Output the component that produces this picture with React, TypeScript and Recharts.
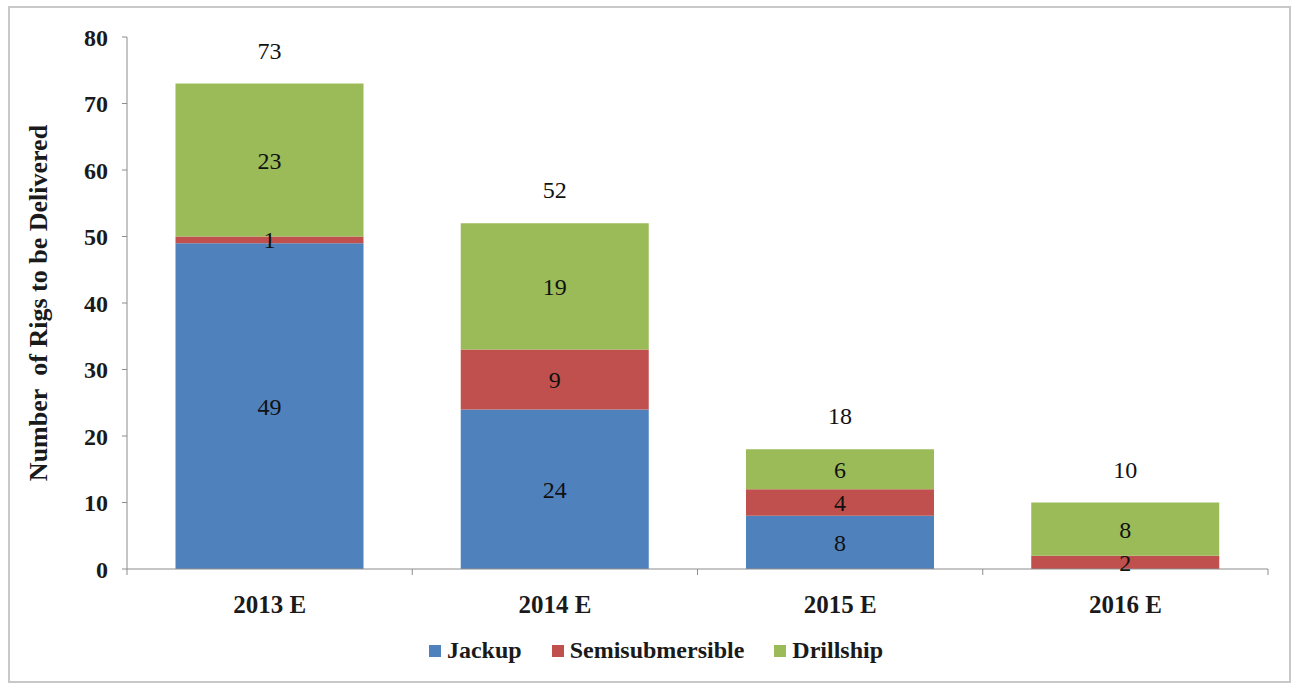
import React from 'react';
import { BarChart, Bar, XAxis, YAxis, Legend, LabelList } from 'recharts';

const years = ['2013 E', '2014 E', '2015 E', '2016 E'];
const jackup = [49, 24, 8, 0];
const semisubmersible = [1, 9, 4, 2];
const drillship = [23, 19, 6, 8];
const totals = [73, 52, 18, 10];
const yTicks = [0, 10, 20, 30, 40, 50, 60, 70, 80];
const seriesOrder = ['Jackup', 'Semisubmersible', 'Drillship'];

const data = years.map((year, i) => ({
  year,
  jackup: jackup[i],
  semisubmersible: semisubmersible[i],
  drillship: drillship[i],
  total: totals[i],
}));

const FONT = '"Liberation Serif", "Times New Roman", serif';
const AXIS_GREY = '#8c8c8c';

const W = 1296;
const H = 687;
const margin = { top: 37, right: 28, left: 0, bottom: 58 };
const Y_AXIS_W = 127;
const plotW = W - margin.left - margin.right - Y_AXIS_W;
const band = plotW / years.length;

// category labels plus the little boundary ticks Excel draws between categories
const YearTick = (props: any) => {
  const { x, y, payload, index } = props;
  const half = band / 2;
  return (
    <g>
      <line x1={x - half} y1={y} x2={x - half} y2={y + 6} stroke={AXIS_GREY} />
      {index === years.length - 1 && (
        <line x1={x + half} y1={y} x2={x + half} y2={y + 6} stroke={AXIS_GREY} />
      )}
      <text x={x} y={y + 44} textAnchor="middle" fontFamily={FONT} fontWeight="bold" fontSize={25} fill="#1a1a1a">
        {payload.value}
      </text>
    </g>
  );
};

const LegendContent = (props: any) => {
  const items = [...(props.payload || [])].sort(
    (a: any, b: any) => seriesOrder.indexOf(a.value) - seriesOrder.indexOf(b.value)
  );
  return (
    <div style={{ display: 'flex', justifyContent: 'center', alignItems: 'center', fontFamily: FONT, fontWeight: 'bold', fontSize: 24, color: '#1a1a1a' }}>
      {items.map((p: any) => (
        <div key={p.value} style={{ display: 'flex', alignItems: 'center', margin: '0 15px' }}>
          <span style={{ width: 12, height: 12, background: p.color, display: 'inline-block', marginRight: 6 }} />
          <span>{p.value}</span>
        </div>
      ))}
    </div>
  );
};

const hideZero = (v: any) => (v === 0 ? '' : v);

const labelStyle = { fontFamily: FONT, fontSize: 24, fill: '#111' };

export default function App() {
  return (
    <div style={{ position: 'absolute', left: 0, top: 0, width: W, height: H, background: '#fff' }}>
      <div
        style={{
          position: 'absolute',
          left: 8,
          top: 6,
          width: 1283,
          height: 677,
          border: '2px solid #c8c8c8',
          boxSizing: 'border-box',
        }}
      />
      <div style={{ position: 'absolute', left: 0, top: 0 }}>
        <BarChart width={W} height={H} data={data} margin={margin} barCategoryGap="17%">
          <XAxis
            dataKey="year"
            stroke={AXIS_GREY}
            tickLine={false}
            tickSize={0}
            tickMargin={0}
            height={60}
            tick={<YearTick />}
            interval={0}
          />
          <YAxis
            domain={[0, 80]}
            ticks={yTicks}
            width={Y_AXIS_W}
            stroke={AXIS_GREY}
            tickSize={5}
            tickMargin={14}
            tick={{ fontFamily: FONT, fontWeight: 'bold', fontSize: 24, fill: '#1a1a1a' }}
            label={{
              value: 'Number\u00a0 of Rigs to be Delivered',
              angle: -90,
              position: 'insideLeft',
              offset: 38,
              style: { textAnchor: 'middle', fontFamily: FONT, fontWeight: 'bold', fontSize: 26, fill: '#1a1a1a' },
            }}
          />
          <Legend
            layout="horizontal"
            verticalAlign="middle"
            align="center"
            content={<LegendContent />}
            wrapperStyle={{ left: 0, top: 637, width: W + 16, height: 30 }}
          />
          <Bar dataKey="jackup" name="Jackup" stackId="rigs" fill="#4f81bd" isAnimationActive={false}>
            <LabelList dataKey="jackup" position="center" formatter={hideZero} style={labelStyle} />
          </Bar>
          <Bar dataKey="semisubmersible" name="Semisubmersible" stackId="rigs" fill="#c0504d" isAnimationActive={false}>
            <LabelList dataKey="semisubmersible" position="center" formatter={hideZero} style={labelStyle} />
          </Bar>
          <Bar dataKey="drillship" name="Drillship" stackId="rigs" fill="#9bbb59" isAnimationActive={false}>
            <LabelList dataKey="drillship" position="center" formatter={hideZero} style={labelStyle} />
            <LabelList dataKey="total" position="top" offset={25} style={labelStyle} />
          </Bar>
        </BarChart>
      </div>
    </div>
  );
}
